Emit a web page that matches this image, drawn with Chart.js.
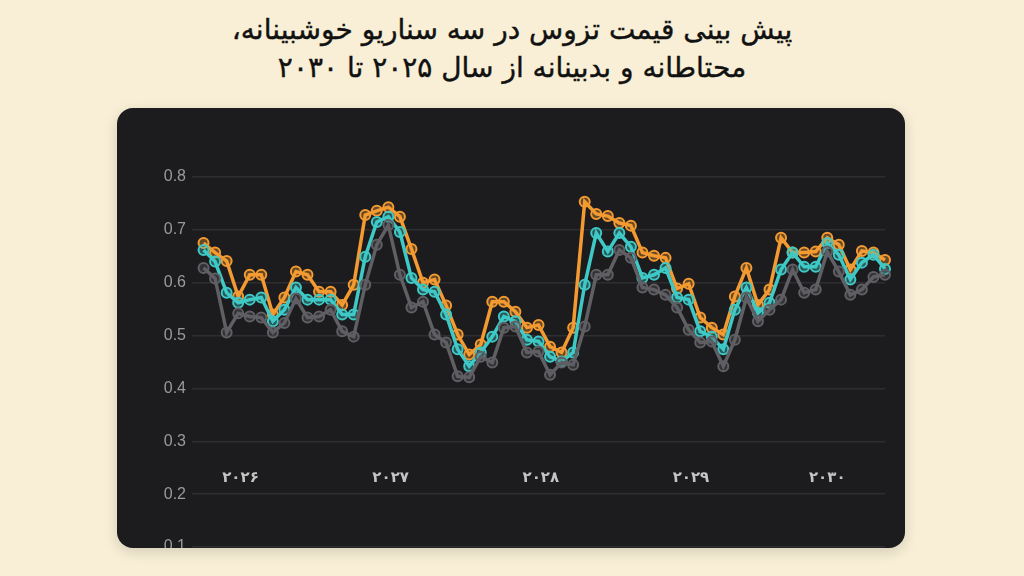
<!DOCTYPE html>
<html><head><meta charset="utf-8">
<script src="https://cdn.jsdelivr.net/npm/chart.js@4"></script>
<style>
html,body{margin:0;padding:0;width:1024px;height:576px;background:#f8efd6;overflow:hidden;font-family:"DejaVu Sans","Noto Sans",sans-serif;}
#title{position:absolute;top:11px;left:0;width:1024px;text-align:center;direction:rtl;font-size:28px;font-weight:normal;line-height:38px;color:#111;-webkit-text-stroke:0.4px #111;}
#panel{position:absolute;left:117px;top:108px;width:788px;height:440px;background:#1c1c1e;border-radius:16px;overflow:hidden;box-shadow:0 4px 14px rgba(0,0,0,0.15);}
#wrap{position:absolute;left:0;top:0;width:788px;height:460px;}
</style></head><body>
<div id="title">پیش بینی قیمت تزوس در سه سناریو خوشبینانه،<br>محتاطانه و بدبینانه از سال ۲۰۲۵ تا ۲۰۳۰</div>
<div id="panel"><div id="wrap"><canvas id="c"></canvas></div></div>
<script>
const yearLabels = ["۲۰۲۶","۲۰۲۷","۲۰۲۸","۲۰۲۹","۲۰۳۰"];
const yearPositions = [3.2,16.2,29.2,42.2,54];
const optimistic = [0.675,0.657,0.641,0.574,0.615,0.615,0.540,0.572,0.621,0.615,0.583,0.583,0.558,0.596,0.728,0.736,0.743,0.725,0.664,0.600,0.606,0.557,0.502,0.464,0.483,0.564,0.564,0.545,0.515,0.520,0.479,0.468,0.515,0.753,0.730,0.726,0.713,0.708,0.657,0.651,0.647,0.589,0.598,0.534,0.515,0.502,0.574,0.628,0.558,0.587,0.685,0.657,0.657,0.659,0.685,0.672,0.625,0.660,0.657,0.643];
const moderate = [0.662,0.640,0.581,0.562,0.568,0.572,0.527,0.549,0.591,0.568,0.568,0.568,0.540,0.540,0.649,0.715,0.725,0.696,0.609,0.587,0.583,0.540,0.474,0.442,0.468,0.498,0.536,0.527,0.492,0.489,0.460,0.451,0.468,0.596,0.694,0.659,0.694,0.668,0.609,0.615,0.628,0.572,0.568,0.508,0.498,0.474,0.549,0.591,0.543,0.562,0.625,0.657,0.630,0.630,0.675,0.653,0.606,0.638,0.653,0.626];
const pessimistic = [0.628,0.608,0.506,0.542,0.536,0.534,0.506,0.524,0.570,0.534,0.536,0.549,0.508,0.498,0.596,0.672,0.709,0.615,0.553,0.564,0.502,0.487,0.423,0.421,0.460,0.449,0.515,0.517,0.468,0.470,0.426,0.449,0.445,0.517,0.615,0.615,0.662,0.647,0.591,0.587,0.577,0.553,0.511,0.487,0.489,0.442,0.492,0.572,0.527,0.549,0.568,0.625,0.581,0.587,0.659,0.621,0.577,0.587,0.611,0.615];
const toPts = a => a.map((v,i)=>({x:i,y:v}));
function ds(label,data,color,fill){return {label,data:toPts(data),borderColor:color,backgroundColor:fill,pointBackgroundColor:fill,pointBorderColor:color,pointBorderWidth:2,pointRadius:5,borderWidth:3.5,tension:0,clip:false};}
new Chart(document.getElementById('c'),{
 type:'line',
 data:{datasets:[
  ds('optimistic',optimistic,'#f39a32','rgba(243,154,50,0.35)'),
  ds('moderate',moderate,'#3ec9c6','rgba(62,201,198,0.35)'),
  ds('pessimistic',pessimistic,'#5f5f64','rgba(95,95,100,0.35)')
 ].reverse()},
 options:{responsive:true,maintainAspectRatio:false,animation:false,
  layout:{padding:{top:69,bottom:21,right:20,left:0}},
  plugins:{legend:{display:false},tooltip:{enabled:false}},
  scales:{
   x:{type:'linear',min:-1,max:59,position:{y:0.268},
      grid:{display:false},border:{display:false},
      afterBuildTicks:s=>{s.ticks=yearPositions.map(v=>({value:v}));},
      ticks:{color:'#c4c4c4',font:{family:'DejaVu Sans',size:15,weight:'bold'},autoSkip:false,maxRotation:0,
        callback:(v)=>{const i=yearPositions.indexOf(v);return i>=0?yearLabels[i]:'';}}},
   y:{min:0.1,max:0.8,afterFit:s=>{s.width=75;},
      grid:{color:'#2e2e31',lineWidth:1.5,drawTicks:false},border:{display:false},
      ticks:{stepSize:0.1,padding:6,color:'#9a9a9c',font:{family:'Liberation Sans',size:16},callback:v=>v.toFixed(1)}}
  }}
});
</script></body></html>
